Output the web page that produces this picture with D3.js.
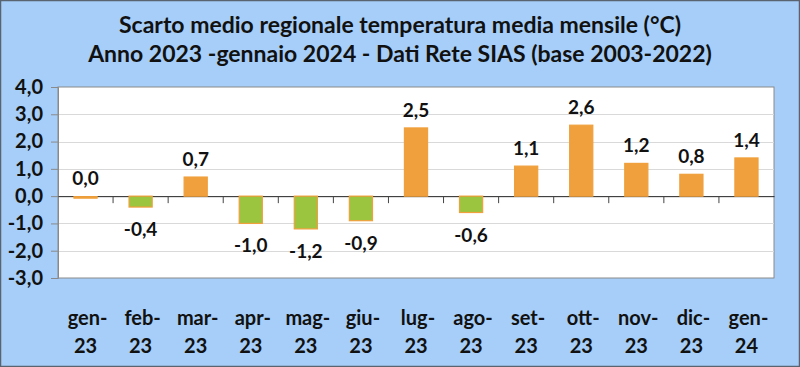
<!DOCTYPE html>
<html><head><meta charset="utf-8">
<script src="https://cdn.jsdelivr.net/npm/d3@7"></script>
<style>body{margin:0;background:#a6cef8}svg{display:block}</style>
</head><body>
<svg id="c" width="800" height="367"></svg>
<script>
const titleLines = ["Scarto medio regionale temperatura media mensile (°C)", "Anno 2023 -gennaio 2024 - Dati Rete SIAS (base 2003-2022)"];
const months = ["gen-", "feb-", "mar-", "apr-", "mag-", "giu-", "lug-", "ago-", "set-", "ott-", "nov-", "dic-", "gen-"];
const years = ["23", "23", "23", "23", "23", "23", "23", "23", "23", "23", "23", "23", "24"];
const values = [0.0, -0.4, 0.7, -1.0, -1.2, -0.9, 2.5, -0.6, 1.1, 2.6, 1.2, 0.8, 1.4];
const yTicks = [4, 3, 2, 1, 0, -1, -2, -3];

const svg = d3.select("#c");
const W = 800, H = 367;
const font = "Lato, 'Open Sans', sans-serif";
const fmt = v => d3.format(".1f")(v).replace(".", ",").replace("−", "-");

svg.append("rect").attr("x", 0.5).attr("y", 0.5).attr("width", W - 1).attr("height", H - 1)
  .attr("fill", "#a6cef8").attr("stroke", "#5a6470").attr("stroke-width", 1.5);

svg.selectAll("text.title").data(titleLines).enter().append("text")
  .attr("x", 400).attr("y", (d, i) => 33 + i * 29)
  .attr("text-anchor", "middle").attr("font-family", font).attr("font-weight", "bold")
  .attr("font-size", 23).attr("fill", "#111").text(d => d);

const L = 58, R = 774, T = 87, B = 278;
const idx = months.map((d, i) => i);
const x = d3.scaleBand().domain(idx).range([L, R]).paddingInner(0.58).paddingOuter(0.29);
const xb = d3.scaleBand().domain(idx).range([L, R]);
const y = d3.scaleLinear().domain([-3, 4]).range([B, T]);

svg.append("rect").attr("x", L).attr("y", T).attr("width", R - L).attr("height", B - T)
  .attr("fill", "#fff").attr("stroke", "#8a8a8a").attr("stroke-width", 1);

// gridlines
svg.append("g").selectAll("line").data(yTicks.filter(v => v !== 4 && v !== -3 && v !== 0)).enter().append("line")
  .attr("x1", L).attr("x2", R).attr("y1", d => Math.round(y(d)) + 0.5).attr("y2", d => Math.round(y(d)) + 0.5)
  .attr("stroke", "#d9d9d9").attr("stroke-width", 1.2);

// y axis
const yAxis = d3.axisLeft(y).tickValues(yTicks).tickSize(7).tickPadding(8).tickFormat(fmt);
const gy = svg.append("g").attr("transform", `translate(${L},0)`).call(yAxis);
gy.select(".domain").attr("stroke", "#8a8a8a");
gy.selectAll(".tick line").attr("stroke", "#8a8a8a");
gy.selectAll(".tick text").attr("font-family", font).attr("font-weight", "bold").attr("font-size", 20).attr("fill", "#111");

// zero axis with ticks between categories
const xAxis = d3.axisBottom(xb).tickSize(0).tickFormat("");
const gx = svg.append("g").attr("transform", `translate(0,${y(0)})`).call(xAxis);
gx.select(".domain").attr("stroke", "#222").attr("stroke-width", 1);
svg.append("g").selectAll("line").data(idx.slice(1)).enter().append("line")
  .attr("x1", i => xb(i)).attr("x2", i => xb(i)).attr("y1", y(0)).attr("y2", y(0) + 7)
  .attr("stroke", "#444").attr("stroke-width", 1);

// bars (a zero value still shows as a thin orange sliver, as in the original)
svg.append("g").selectAll("rect").data(values).enter().append("rect")
  .attr("x", (d, i) => x(i)).attr("width", x.bandwidth())
  .attr("y", d => d === 0 ? y(0) + 0.5 : y(Math.max(0, d)))
  .attr("height", d => d === 0 ? 1.5 : Math.abs(y(d) - y(0)))
  .attr("fill", d => d >= 0 ? "#f0a03c" : "#9bc53f")
  .attr("stroke", "#f0a03c").attr("stroke-width", 1.2);

// value labels
svg.append("g").selectAll("text").data(values).enter().append("text")
  .attr("x", (d, i) => x(i) + x.bandwidth() / 2)
  .attr("y", d => d >= 0 ? y(d) - 11 : y(d) + 29)
  .attr("text-anchor", "middle").attr("font-family", font).attr("font-weight", "bold")
  .attr("font-size", 19).attr("fill", "#111").text(fmt);

// category labels
const cat = svg.append("g").selectAll("text").data(idx).enter().append("text")
  .attr("text-anchor", "middle").attr("font-family", font).attr("font-weight", "bold")
  .attr("font-size", 20).attr("fill", "#111");
cat.append("tspan").attr("x", i => xb(i) + xb.bandwidth() / 2 + 2).attr("y", 325).text(i => months[i]);
cat.append("tspan").attr("x", i => xb(i) + xb.bandwidth() / 2).attr("y", 353).text(i => years[i]);
</script>
</body></html>
